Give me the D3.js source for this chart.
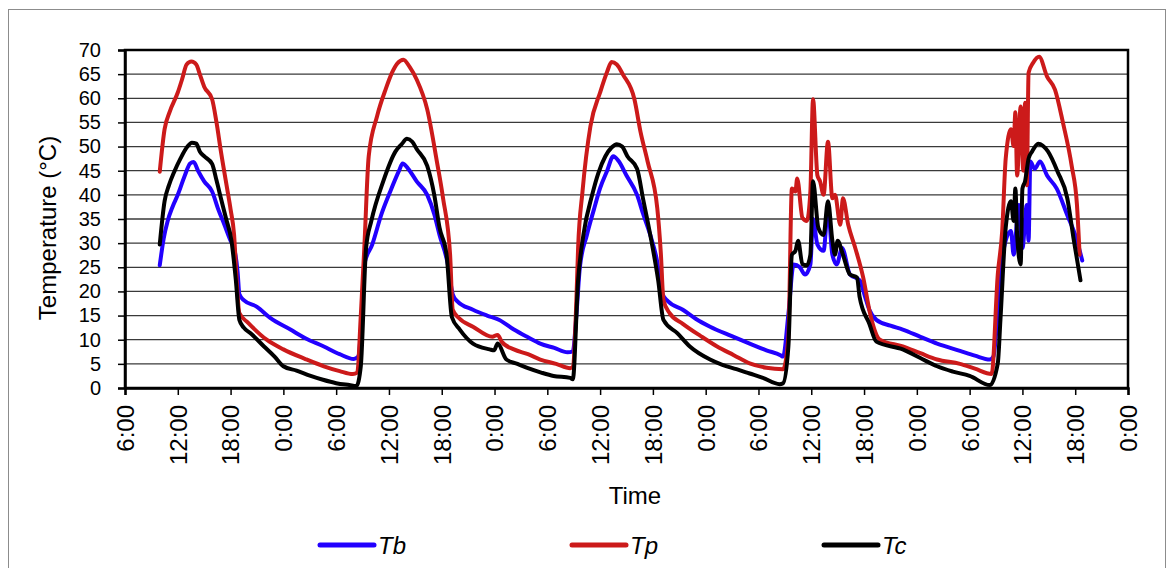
<!DOCTYPE html>
<html>
<head>
<meta charset="utf-8">
<script src="https://cdn.jsdelivr.net/npm/d3@7"></script>
<style>
  body { margin: 0; background: #fff; }
  svg { display: block; }
  svg text { font-family: "Liberation Sans", Arial, sans-serif; }
</style>
</head>
<body>
<div id="chart"></div>
<script>
// Donnees : [heure depuis minuit du jour 1, temperature en degres C]
var tb = [[9.95,25.4],[10.4,31],[10.85,34.6],[11.4,37.5],[12.0,40],[12.8,44],[13.4,46.5],[13.8,46.8],[14.3,45],[15.0,42.8],[15.9,40.7],[16.6,37],[17.3,33.8],[18.0,30.5],[18.4,29],[18.8,24],[19.0,19.4],[19.5,18.2],[21.0,16.8],[22.5,14.5],[24.8,12.1],[26.5,10.3],[28.6,8.6],[30.4,7.0],[32.0,6.0],[32.5,6.5],[33.0,18],[33.2,25.6],[34.1,29.7],
  [35.15,36],[36.15,40.7],[37.15,45],[37.55,46.5],[38.15,45.5],[39.15,42.8],[40.35,40],[41.15,36],[41.75,31.7],[42.65,26],[43.25,19.4],[43.75,18],[45.55,16.2],[47.15,15],[48.55,14.1],
  [50.2,12.1],[51.8,10.5],[53.2,9.2],[54.8,8.3],[56.3,7.4],[56.9,7.6],[57.3,15],[57.7,25],[58.5,31.7],[59.3,37],[60.0,41.4],[60.8,45],[61.5,48],[62.1,47],[63.0,44],[64.2,40],[64.9,36],
  [65.7,31.7],[66.4,27],[67.1,19.4],[67.7,18],[69.4,16.2],[70.9,14.3],[72.5,12.7],[74.9,10.8],[77.0,9.2],[78.9,7.8],
  [80.5,6.8],[80.8,6.5],[81.4,15.3],[82.0,25.6],[82.7,25],[83.3,23.5],[83.9,25.6],[84.2,35],[84.7,29.7],[85.4,28.4],[85.9,37.2],[86.4,27.6],[86.9,25.6],[87.5,29],[88.4,23.5],[89.5,22.3],[90.1,19],[90.6,16.2],[91.4,14.1],[93.0,12.9],[94.4,12.1],
  [96.4,10.6],[98.3,9.2],[100.9,7.7],[102.6,6.7],[104.3,5.9],
  [104.7,6.5],[105.3,18],[105.9,29],[106.7,32.5],[107.0,27.6],[107.6,37.9],[108.0,29],[108.5,37.9],[108.7,30.5],[108.9,46.9],[109.4,45.4],[110.0,46.9],[110.8,44],[111.9,41.3],[113.1,35.8],[114.0,31.7],[114.8,26.4]];

var tp = [[9.95,44.8],[10.5,53.6],[11.1,57.3],[12.0,61.2],[12.5,64],[13.0,67],[13.55,67.6],[14.1,67],[14.5,65],[15.0,62.4],[15.9,59.8],[16.4,55],[16.9,49],[17.6,41.4],[18.0,37],[18.4,31.7],[18.7,22],[19.0,15.5],[20.0,13.5],[22.1,10],[24,8],[26.5,6],[28.6,4.5],[30.4,3.5],[31.9,2.9],[32.4,3.2],[32.8,15],[33.2,29],[33.7,48],[34.65,56.3],
  [35.65,62],[36.35,65.3],[36.95,67.2],[37.65,68],[38.35,66.5],[39.15,63.9],[40.35,57.7],[41.45,46.9],[42.15,39.3],[42.95,27.6],[43.25,16.2],[43.95,14.5],[45.55,12.7],[47.75,10.6],[48.35,11],[48.85,9.5],
  [50.2,8],[51.8,7],[53.2,5.9],[55.0,5],[56.6,4.1],[56.9,4.4],[57.3,18],[57.5,29],[58.0,40.7],[58.9,54.2],[60.0,61.2],[60.8,65.5],[61.3,67.5],[61.9,67],[62.6,64.9],[63.9,59.8],[64.6,53],
  [65.4,46.9],[66.5,37.2],[66.9,28],[67.2,18.2],[67.9,15.5],[69.4,13.3],[71.4,10.8],[73.3,8.6],[75.2,6.8],[77.0,5.1],[78.9,4.2],
  [80.8,3.9],[81.4,10.6],[81.8,41.3],[82.2,40.7],[82.4,43.4],[83.0,35.2],[83.5,34.6],[83.9,40.7],[84.2,59.8],[84.7,44],[85.0,42.8],[85.4,40],[85.9,51],[86.4,39.3],[86.7,40],[87.3,33.8],[87.6,39.3],[88.2,33.8],[89.0,29],[89.9,22.9],[90.7,15.3],[91.8,10],[94.4,8.6],
  [96.4,7.2],[98.3,5.9],[100.9,5.0],[102.6,4],[104.5,2.9],
  [105.2,23.5],[105.7,32.5],[106.1,47.5],[106.7,53.6],[107.0,50.1],[107.2,57.1],[107.4,44],[107.8,58.3],[108.1,45],[108.3,59.1],[108.5,42],[108.7,65.3],[109.2,67.3],[109.9,68.6],[110.8,64.5],[111.7,61.8],[112.6,55],[113.6,46],[114.2,37.9],[114.5,27.6]];

var tc = [[9.95,29.7],[10.5,38.7],[11.0,42],[11.6,44.8],[12.3,47.5],[13.1,50],[13.6,50.8],[14.1,50.6],[14.5,49],[15,48],[15.9,46.4],[16.4,43],[16.9,39.3],[17.5,35],[18.1,30.5],[18.6,22.3],[19.0,14.1],[19.5,12.5],[20.3,11.3],[21.8,8.6],[23,6.5],[24.0,4.5],[25.5,3.6],[27.1,2.5],[28.5,1.7],[30.0,1],[31.5,0.6],[32.3,0.4],[32.8,4.5],[33.4,29],[34.0,34.6],
  [35.35,42.8],[36.75,49],[37.45,50.5],[38.05,51.6],[38.65,51],[39.15,49.5],[40.35,46],[41.15,40],[41.75,33.2],[42.55,27.6],[43.15,14.7],[44.05,12.1],[45.55,9.2],[47.45,8],[47.95,7.8],[48.35,9.2],[49.35,5.9],
  [50.6,5],[51.8,4.1],[53.3,3.2],[54.7,2.5],[56.6,2.1],[56.9,1.8],[57.5,22.3],[58.1,31.7],[59.1,40],[59.8,44.5],[60.6,48],[61.3,49.8],[61.9,50.5],[62.5,50],[63.1,48],[64.2,45.4],[64.9,39],
  [65.7,31.7],[66.6,22.3],[67.2,14.1],[68.8,11.3],[70.2,8.6],[72.5,5.9],[73.9,4.8],[75.5,3.9],[77.0,3],[78.5,2.1],[80.4,0.8],
  [80.8,1],[81.4,8.6],[81.8,27.6],[82.2,28.4],[82.5,30.5],[83.0,25.6],[83.5,25.4],[83.9,27.6],[84.2,42.8],[84.8,33.2],[85.4,31.7],[85.9,38.7],[86.4,30.5],[86.7,27.6],[87.0,30.5],[87.6,27.6],[88.4,23.5],[89.2,22.9],[89.5,18.8],[90.6,13.3],[91.4,9.6],[94.4,8],
  [96.4,6.2],[98.3,4.5],[100.1,3.4],[102.0,2.5],[104.3,0.6],
  [105.2,5.1],[105.5,14.1],[106.1,33.2],[106.7,38.7],[107.0,34.6],[107.2,41.3],[107.4,31.7],[107.8,25.6],[108.0,41.3],[108.3,42.8],[108.7,47.5],[109.1,49],[109.8,50.6],[110.9,49],[112.0,44.8],[113.1,39.3],[113.8,31.1],[114.6,22.3]];

var series = [
  { nom: "Tb", couleur: "#2200ff", valeurs: tb },
  { nom: "Tp", couleur: "#cc1a1a", valeurs: tp },
  { nom: "Tc", couleur: "#000000", valeurs: tc }
];

// Graduations
var heuresTicks = d3.range(6, 121, 6);
var tempTicks = d3.range(0, 71, 5);

// Dimensions
var largeur = 1175, hauteur = 568;
var gauche = 125, droite = 1128, haut = 50, bas = 388;

var svg = d3.select("#chart").append("svg").attr("width", largeur).attr("height", hauteur);

// Cadre exterieur
svg.append("rect").attr("x", 8.5).attr("y", 9.5).attr("width", 1157).attr("height", 600)
  .attr("fill", "none").attr("stroke", "#8c8c8c").attr("stroke-width", 1);

var x = d3.scaleLinear().domain([6, 120]).range([gauche, droite]);
var y = d3.scaleLinear().domain([0, 70]).range([bas, haut]);

// Grille
svg.append("g").selectAll("line").data(tempTicks.slice(1)).enter().append("line")
  .attr("x1", gauche).attr("x2", droite)
  .attr("y1", function (d) { return y(d); }).attr("y2", function (d) { return y(d); })
  .attr("stroke", "#3a3a3a").attr("stroke-width", 1.3);

// Axe Y
var axeY = svg.append("g").attr("transform", "translate(" + gauche + ",0)")
  .call(d3.axisLeft(y).tickValues(tempTicks).tickSize(7).tickPadding(17).tickFormat(d3.format("d")));
axeY.attr("font-family", null);
axeY.select(".domain").attr("stroke-width", 2.5);
axeY.selectAll(".tick line").attr("stroke-width", 1.5);
axeY.selectAll("text").attr("font-size", 20).attr("fill", "#000");

// Axe X
var axeX = svg.append("g").attr("transform", "translate(0," + bas + ")")
  .call(d3.axisBottom(x).tickValues(heuresTicks).tickSize(7).tickFormat(function (d) { return (d % 24) + ":00"; }));
axeX.attr("font-family", null);
axeX.select(".domain").attr("stroke-width", 2.5);
axeX.selectAll(".tick line").attr("stroke-width", 1.5);
axeX.selectAll("text")
  .attr("font-size", 24).attr("fill", "#000")
  .attr("text-anchor", "end").attr("dy", "0.35em")
  .attr("transform", "translate(0,17) rotate(-90)").attr("x", 0).attr("y", 0);

// Cadre du trace
svg.append("rect").attr("x", gauche).attr("y", haut).attr("width", droite - gauche).attr("height", bas - haut)
  .attr("fill", "none").attr("stroke", "#000").attr("stroke-width", 2.5);

// Courbes
var ligne = d3.line().curve(d3.curveMonotoneX)
  .x(function (d) { return x(d[0]); }).y(function (d) { return y(d[1]); });
svg.append("g").selectAll("path").data(series).enter().append("path")
  .attr("d", function (d) { return ligne(d.valeurs); })
  .attr("fill", "none")
  .attr("stroke", function (d) { return d.couleur; })
  .attr("stroke-width", 4)
  .attr("stroke-linejoin", "round").attr("stroke-linecap", "round");

// Titres
svg.append("text").attr("transform", "translate(56,228) rotate(-90)")
  .attr("text-anchor", "middle").attr("font-size", 24).text("Temperature (°C)");
svg.append("text").attr("x", 635).attr("y", 504)
  .attr("text-anchor", "middle").attr("font-size", 24).text("Time");

// Legende
var legendeX = [320, 572, 824];
var legende = svg.append("g").selectAll("g").data(series).enter().append("g")
  .attr("transform", function (d, i) { return "translate(" + legendeX[i] + ",545)"; });
legende.append("line").attr("x1", 0).attr("x2", 54).attr("y1", 0).attr("y2", 0)
  .attr("stroke", function (d) { return d.couleur; }).attr("stroke-width", 5).attr("stroke-linecap", "round");
legende.append("text").attr("x", 58).attr("y", 9).attr("font-size", 24).attr("font-style", "italic")
  .text(function (d) { return d.nom; });
</script>
</body>
</html>
